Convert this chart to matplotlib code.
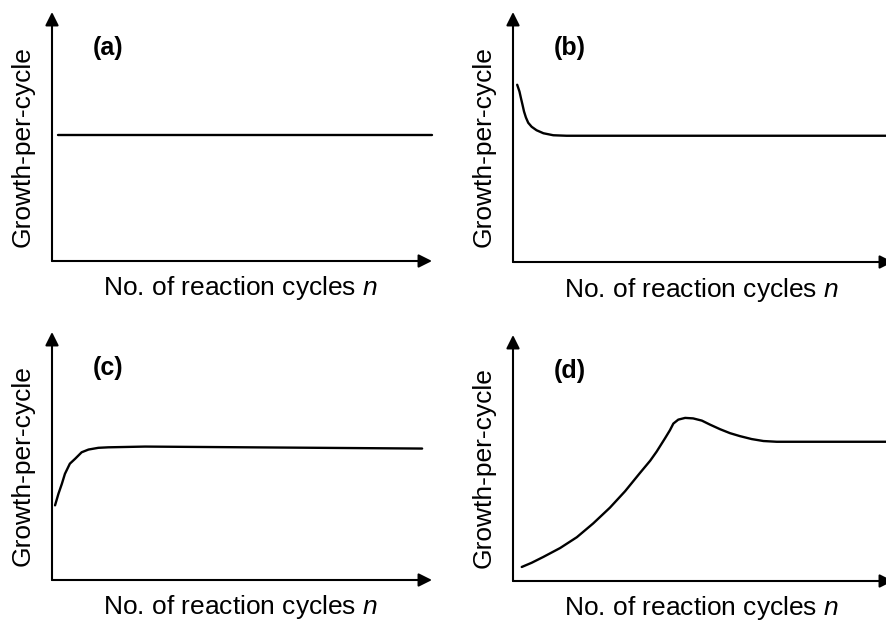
import matplotlib
matplotlib.use("Agg")
import matplotlib.pyplot as plt

plt.rcParams['font.family'] = ['Liberation Sans', 'DejaVu Sans']
plt.rcParams['mathtext.fontset'] = 'custom'
plt.rcParams['mathtext.rm'] = 'Liberation Sans'
plt.rcParams['mathtext.it'] = 'Liberation Sans:italic'

# Data (arbitrary units, axes span 0..10)
a_x = [0.16, 10.0]
a_y = [5.06, 5.06]

b_x = [0.11, 0.17, 0.21, 0.25, 0.29, 0.34, 0.40, 0.49, 0.62, 0.80, 1.06, 1.41, 10.0]
b_y = [7.09, 6.82, 6.55, 6.29, 6.02, 5.78, 5.57, 5.41, 5.27, 5.15, 5.07, 5.05, 5.05]

c_x = [0.08, 0.17, 0.26, 0.34, 0.47, 0.61, 0.78, 0.96, 1.22, 1.48, 2.45, 9.74]
c_y = [3.01, 3.48, 3.88, 4.28, 4.69, 4.89, 5.15, 5.26, 5.33, 5.35, 5.38, 5.30]

d_x = [0.23, 0.49, 0.80, 1.24, 1.68, 2.11, 2.55, 2.95, 3.34, 3.61, 3.78, 4.00, 4.13,
       4.22, 4.35, 4.53, 4.74, 4.97, 5.18, 5.45, 5.71, 5.97, 6.28, 6.59, 6.94, 7.55, 10.0]
d_y = [0.57, 0.74, 0.98, 1.34, 1.78, 2.34, 2.98, 3.65, 4.39, 4.89, 5.26, 5.80, 6.13,
       6.40, 6.56, 6.63, 6.61, 6.52, 6.36, 6.17, 6.01, 5.89, 5.77, 5.69, 5.66, 5.66, 5.66]

panel_labels = ['(a)', '(b)', '(c)', '(d)']
xlabel = r'No. of reaction cycles $\it{n}$'
ylabel = 'Growth-per-cycle'

W, H = 886, 623
fig = plt.figure(figsize=(W / 100, H / 100), dpi=100)

# pixel positions: (left, top-of-arrow, bottom axis line)
boxes = [(52, 12, 261), (513, 12, 262), (52, 332, 580), (513, 335, 581)]
data = [(a_x, a_y), (b_x, b_y), (c_x, c_y), (d_x, d_y)]
axw = 380

for (left, top, bottom), (xs, ys), lab in zip(boxes, data, panel_labels):
    ax = fig.add_axes([left / W, (H - bottom) / H, axw / W, (bottom - top) / H])
    ax.set_xlim(0, 10)
    ax.set_ylim(0, 10)
    ax.axis('off')
    ax.plot(xs, ys, color='black', lw=1.7, solid_joinstyle='round',
            solid_capstyle='round', clip_on=False)
    arrow = dict(arrowstyle='-|>', color='black', lw=1.5, shrinkA=0, shrinkB=0,
                 mutation_scale=20)
    ax.annotate('', xy=(10, 0), xytext=(0, 0), arrowprops=arrow, annotation_clip=False)
    ax.annotate('', xy=(0, 10), xytext=(0, 0), arrowprops=arrow, annotation_clip=False)
    ax.text(1.08, 8.55, lab, fontsize=18, fontweight='bold', ha='left', va='center')
    ax.text(-29 / axw * 10, 4.6, ylabel, fontsize=19, rotation=90, ha='center', va='center')
    ax.text(4.95, -1.1, xlabel, fontsize=19, ha='center', va='center')

fig.savefig('out.png', dpi=100)
